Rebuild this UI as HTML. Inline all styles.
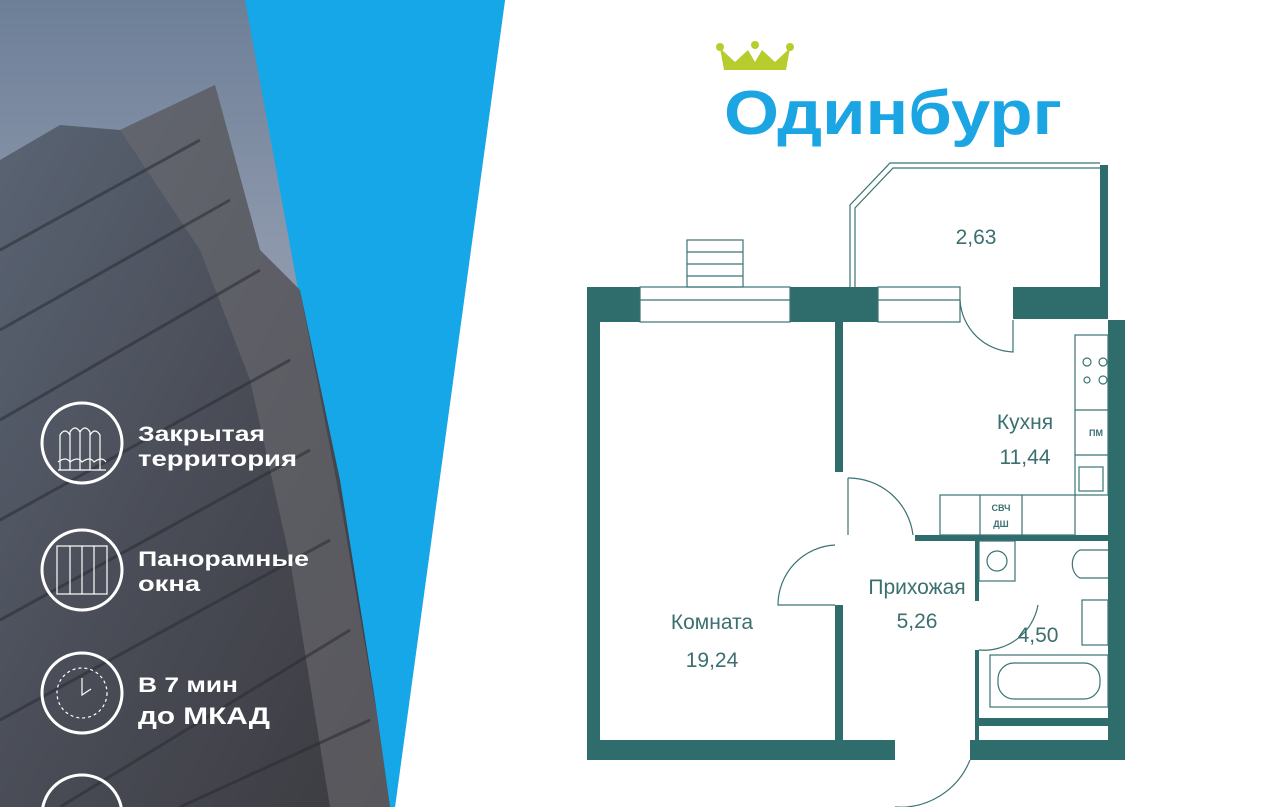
<!DOCTYPE html>
<html><head><meta charset="utf-8"><style>
html,body{margin:0;padding:0;width:1280px;height:807px;overflow:hidden;background:#fff;font-family:"Liberation Sans","DejaVu Sans",sans-serif}
svg{position:absolute;left:0;top:0}
</style></head><body>
<svg width="1280" height="807" viewBox="0 0 1280 807">
<defs>
<linearGradient id="sky" x1="0" y1="0" x2="0" y2="1">
<stop offset="0" stop-color="#6d7f98"/><stop offset="0.3" stop-color="#8c97ab"/><stop offset="1" stop-color="#9aa4b4"/></linearGradient>
<linearGradient id="bld" x1="0" y1="0" x2="1" y2="1">
<stop offset="0" stop-color="#5a6575"/><stop offset="0.5" stop-color="#4a4d57"/><stop offset="1" stop-color="#3b3a40"/></linearGradient>
</defs>
<!-- left photo -->
<polygon points="0,0 505,0 395,807 0,807" fill="url(#sky)"/>
<polygon points="245,0 505,0 395,807 370,807 300,300" fill="#16a7e8"/>
<polygon points="0,160 60,125 120,130 215,85 260,250 300,290 340,480 375,700 390,807 0,807" fill="url(#bld)"/>
<polygon points="120,130 215,85 260,250 300,290 340,500 378,720 390,807 330,807 290,560 250,380 200,250" fill="#6b6a70" opacity="0.6"/>
<g stroke="#2b2c33" stroke-width="3" opacity="0.55">
<line x1="0" y1="250" x2="200" y2="140"/><line x1="0" y1="330" x2="230" y2="200"/>
<line x1="0" y1="420" x2="260" y2="270"/><line x1="0" y1="520" x2="290" y2="360"/>
<line x1="0" y1="620" x2="310" y2="450"/><line x1="0" y1="720" x2="330" y2="540"/>
<line x1="60" y1="807" x2="350" y2="630"/><line x1="180" y1="807" x2="370" y2="720"/>
</g>
<!-- icons -->
<g fill="none" stroke="#fff" stroke-width="3">
<circle cx="82" cy="443" r="40"/><circle cx="82" cy="570" r="40"/><circle cx="82" cy="693" r="40"/><circle cx="82" cy="815" r="40"/>
</g>
<g fill="none" stroke="#fff" stroke-width="1.2">
<path d="M60 470 v-35 q5-8 10 0 v35 M70 470 v-38 q5-8 10 0 v38 M80 470 v-38 q5-8 10 0 v38 M90 470 v-35 q5-8 10 0 v35"/>
<path d="M58 470 h48 M58 462 q8-6 12 0 q8-6 12 0 q8-6 12 0 q8-6 12 0"/>
<rect x="57" y="546" width="50" height="48"/><line x1="70" y1="546" x2="70" y2="594"/><line x1="82" y1="546" x2="82" y2="594"/><line x1="94" y1="546" x2="94" y2="594"/>
<circle cx="82" cy="693" r="25" stroke-dasharray="3 3"/><path d="M82 678 v17 l9-6"/>
</g>
<g fill="#fff" font-weight="bold" font-size="21">
<text x="138" y="441" textLength="127" lengthAdjust="spacingAndGlyphs">Закрытая</text><text x="138" y="466" textLength="159" lengthAdjust="spacingAndGlyphs">территория</text>
<text x="138" y="566" textLength="171" lengthAdjust="spacingAndGlyphs">Панорамные</text><text x="138" y="591" textLength="62" lengthAdjust="spacingAndGlyphs">окна</text>
<text x="138" y="692" textLength="100" lengthAdjust="spacingAndGlyphs">В 7 мин</text><text x="138" y="724" font-size="24" textLength="132" lengthAdjust="spacingAndGlyphs">до МКАД</text>
</g>
<!-- logo -->
<g fill="#b7cd2e"><polygon points="720,48 735,62 748,50 755,62 762,50 775,62 790,48 786,70 724,70"/>
<circle cx="720" cy="47" r="4"/><circle cx="755" cy="45" r="4"/><circle cx="790" cy="47" r="4"/></g>
<text x="724" y="134" font-size="62" font-weight="bold" fill="#1ba5e3" textLength="338" lengthAdjust="spacingAndGlyphs">Одинбург</text>
<!-- plan -->
<g fill="#2f6c6c">
<rect x="587" y="287" width="53" height="35"/>
<rect x="790" y="287" width="88" height="35"/>
<rect x="1013" y="287" width="95" height="32"/>
<rect x="587" y="287" width="13" height="473"/>
<rect x="1108" y="320" width="17" height="440"/>
<rect x="587" y="740" width="308" height="20"/>
<rect x="970" y="740" width="155" height="20"/>
<rect x="835" y="322" width="8" height="150"/>
<rect x="835" y="605" width="8" height="135"/>
<rect x="915" y="535" width="193" height="6"/>
<rect x="975" y="541" width="4" height="60"/>
<rect x="975" y="650" width="4" height="90"/>
<rect x="979" y="718" width="129" height="8"/>
<rect x="1100" y="165" width="8" height="122"/>
</g>
<g fill="none" stroke="#3b7373" stroke-width="1.2">
<rect x="640" y="287" width="150" height="35" fill="#fff"/><line x1="640" y1="300" x2="790" y2="300"/>
<rect x="878" y="287" width="82" height="35" fill="#fff"/><line x1="878" y1="300" x2="960" y2="300"/>
<rect x="687" y="240" width="56" height="47"/><line x1="687" y1="252" x2="743" y2="252"/><line x1="687" y1="264" x2="743" y2="264"/><line x1="687" y1="276" x2="743" y2="276"/>
<polyline points="850,287 850,205 890,163 1100,163"/><polyline points="855,287 855,208 893,168 1100,168"/>
<path d="M960 300 A55 55 0 0 0 1013 352 V320"/>
<path d="M848 478 A65 65 0 0 1 913 535"/><line x1="848" y1="478" x2="848" y2="535"/>
<path d="M835 545 A60 60 0 0 0 778 605 H835"/>
<path d="M1038 605 A55 55 0 0 1 979 650"/>
<path d="M970 760 A75 75 0 0 1 895 807"/>
<rect x="1075" y="335" width="33" height="160"/><line x1="1075" y1="410" x2="1108" y2="410"/><line x1="1075" y1="455" x2="1108" y2="455"/>
<circle cx="1087" cy="362" r="4"/><circle cx="1103" cy="362" r="4"/><circle cx="1087" cy="380" r="3"/><circle cx="1103" cy="380" r="4"/>
<rect x="1079" y="467" width="24" height="24"/>
<rect x="940" y="495" width="135" height="40"/><line x1="980" y1="495" x2="980" y2="535"/><line x1="1022" y1="495" x2="1022" y2="535"/>
<rect x="979" y="541" width="36" height="40"/><circle cx="997" cy="561" r="10"/>
<path d="M1108 550 H1080 A12 15 0 0 0 1080 578 H1108"/>
<rect x="1082" y="600" width="26" height="45"/>
<rect x="990" y="655" width="118" height="52"/><rect x="998" y="663" width="102" height="36" rx="16"/>
</g>
<g fill="#3c6f70" font-size="21" text-anchor="middle">
<text x="976" y="244">2,63</text>
<text x="1025" y="429">Кухня</text><text x="1025" y="464">11,44</text>
<text x="712" y="629">Комната</text><text x="712" y="667">19,24</text>
<text x="917" y="594">Прихожая</text><text x="917" y="628">5,26</text>
<text x="1038" y="642">4,50</text>
</g>
<g fill="#3c6f70" font-size="9" font-weight="bold" text-anchor="middle">
<text x="1096" y="436">ПМ</text><text x="1001" y="511">СВЧ</text><text x="1001" y="527">ДШ</text>
</g>
</svg>
</body></html>
